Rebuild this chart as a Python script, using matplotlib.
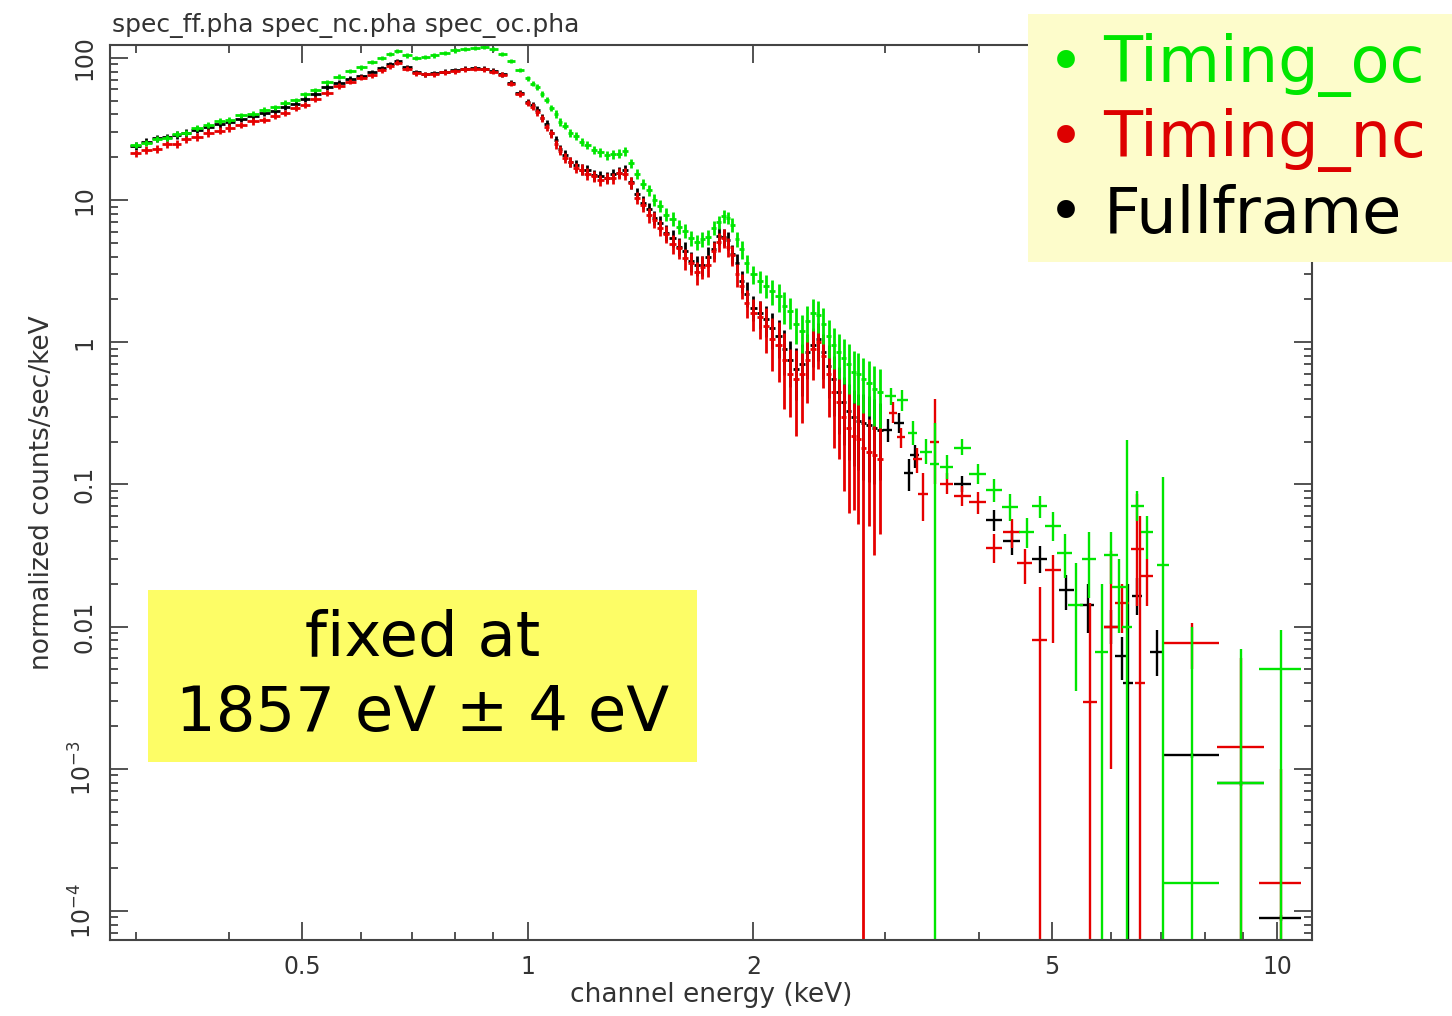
import numpy as np
import matplotlib
matplotlib.use("Agg")
import matplotlib.pyplot as plt
from matplotlib.ticker import FixedLocator, NullFormatter, LogLocator
from matplotlib.patches import Rectangle

# soft part of the spectra, 0.3-1 keV (keV, counts/s/keV)
energy_low = [0.300, 0.310, 0.320, 0.330, 0.340, 0.350, 0.362, 0.375, 0.388, 0.400,
              0.415, 0.430, 0.445, 0.460, 0.475, 0.490, 0.505, 0.520, 0.540, 0.560,
              0.580, 0.600, 0.620, 0.640, 0.655, 0.670, 0.690, 0.710, 0.730, 0.750,
              0.775, 0.800, 0.825, 0.850, 0.875, 0.900, 0.925, 0.950, 0.975]
rate_oc_low = [24.5, 25.2, 26.8, 27.5, 29.3, 29.8, 32.2, 33.6, 35.8, 36.7,
               39.4, 40.6, 43.3, 44.8, 48.5, 50.6, 55.4, 59.5, 67.3, 73.6,
               80.5, 85.7, 93.4, 99.5, 106, 112, 104, 99.5, 101, 104,
               108, 113, 115, 118, 119, 115, 106, 95.0, 82.0]
rate_nc_low = [21.3, 22.6, 22.9, 24.6, 24.9, 26.7, 27.8, 29.7, 30.8, 32.2,
               33.8, 35.7, 36.8, 39.2, 40.8, 44.2, 46.8, 51.3, 56.7, 63.2,
               67.8, 72.3, 75.8, 82.2, 87.5, 92.5, 84.0, 78.0, 76.5, 77.0,
               79.0, 80.5, 83.0, 84.0, 83.0, 80.0, 76.0, 66.0, 56.0]
rate_ff_low = [24.0, 25.8, 27.2, 27.7, 28.7, 29.6, 31.3, 32.8, 34.3, 35.2,
               37.3, 38.8, 41.2, 42.1, 45.3, 47.6, 51.4, 55.8, 62.4, 66.6,
               71.3, 74.6, 79.4, 84.6, 90.0, 95.0, 86.0, 79.0, 77.0, 78.0,
               80.0, 82.0, 84.0, 85.0, 84.0, 81.0, 77.0, 67.0, 57.0]
frac_oc_low = [0.05, 0.05, 0.05, 0.05, 0.05, 0.05, 0.05, 0.05, 0.05, 0.05,
               0.04, 0.04, 0.04, 0.04, 0.04, 0.04, 0.04, 0.04, 0.04, 0.04,
               0.035, 0.035, 0.035, 0.035, 0.035, 0.035, 0.035, 0.035, 0.035, 0.035,
               0.035, 0.035, 0.035, 0.035, 0.035, 0.035, 0.035, 0.035, 0.035]
frac_nc_low = [0.06, 0.06, 0.06, 0.06, 0.06, 0.06, 0.06, 0.06, 0.06, 0.06,
               0.05, 0.05, 0.05, 0.05, 0.05, 0.05, 0.05, 0.05, 0.05, 0.05,
               0.04, 0.04, 0.04, 0.04, 0.04, 0.04, 0.04, 0.04, 0.04, 0.04,
               0.04, 0.04, 0.04, 0.04, 0.04, 0.04, 0.04, 0.04, 0.045]
frac_ff_low = frac_nc_low

# 1-2 keV (Mg and Si lines)
energy_si = [1.000, 1.015, 1.030, 1.045, 1.060, 1.075, 1.090, 1.105, 1.120, 1.140,
             1.160, 1.180, 1.200, 1.225, 1.250, 1.275, 1.300, 1.325, 1.350, 1.375,
             1.400, 1.425, 1.450, 1.475, 1.500, 1.530, 1.560, 1.590, 1.620, 1.650,
             1.680, 1.710, 1.740, 1.770, 1.800, 1.825, 1.850, 1.875, 1.900, 1.930, 1.960]
rate_oc_si = [72.0, 66.0, 62.5, 55.5, 50.5, 44.5, 40.5, 35.5, 33.4, 29.6,
              28.3, 25.7, 24.5, 22.5, 21.7, 20.7, 21.0, 21.2, 22.0, 18.2,
              15.2, 13.0, 11.7, 10.0, 9.1, 7.9, 7.4, 6.5, 6.1, 5.4,
              5.1, 5.3, 5.5, 6.4, 7.0, 7.7, 7.5, 6.7, 5.3, 4.5, 3.6]
rate_nc_si = [48.0, 45.5, 41.5, 37.5, 32.5, 29.4, 24.6, 22.3, 19.7, 18.5,
              16.8, 16.4, 15.3, 14.8, 13.8, 14.3, 14.3, 15.5, 15.3, 13.2,
              10.4, 9.3, 7.9, 7.3, 6.4, 5.8, 4.9, 4.6, 3.9, 3.6,
              3.1, 3.4, 3.5, 4.4, 5.1, 5.4, 4.7, 4.1, 3.0, 2.5, 1.9]
rate_ff_si = [49.0, 46.3, 43.2, 38.0, 34.5, 29.8, 26.4, 22.8, 20.8, 18.6,
              17.7, 16.4, 16.2, 14.9, 14.7, 14.4, 15.2, 15.6, 16.2, 13.3,
              11.1, 9.6, 8.6, 7.5, 6.9, 5.9, 5.4, 4.7, 4.4, 3.7,
              3.5, 3.5, 4.0, 4.5, 5.6, 5.5, 5.2, 4.2, 3.6, 2.7, 2.2]
frac_oc_si = [0.04, 0.045, 0.05, 0.05, 0.05, 0.055, 0.06, 0.06, 0.06, 0.065,
              0.07, 0.07, 0.07, 0.07, 0.07, 0.07, 0.07, 0.07, 0.07, 0.075,
              0.08, 0.085, 0.09, 0.095, 0.10, 0.105, 0.11, 0.115, 0.12, 0.12,
              0.12, 0.12, 0.12, 0.11, 0.10, 0.10, 0.10, 0.11, 0.12, 0.14, 0.15]
frac_nc_si = [0.05, 0.055, 0.06, 0.06, 0.06, 0.065, 0.07, 0.075, 0.08, 0.08,
              0.08, 0.085, 0.09, 0.09, 0.09, 0.09, 0.09, 0.09, 0.09, 0.095,
              0.10, 0.11, 0.12, 0.125, 0.13, 0.14, 0.15, 0.16, 0.17, 0.18,
              0.18, 0.18, 0.18, 0.16, 0.15, 0.15, 0.15, 0.16, 0.18, 0.20, 0.22]
frac_ff_si = [0.05, 0.055, 0.06, 0.06, 0.06, 0.065, 0.07, 0.075, 0.08, 0.08,
              0.08, 0.085, 0.09, 0.09, 0.09, 0.09, 0.09, 0.09, 0.09, 0.095,
              0.10, 0.105, 0.11, 0.115, 0.12, 0.13, 0.14, 0.145, 0.15, 0.16,
              0.16, 0.16, 0.16, 0.15, 0.14, 0.14, 0.14, 0.15, 0.16, 0.18, 0.20]

# 2-3 keV, still fine channels but noisy
energy_mid = [2.00, 2.04, 2.08, 2.12, 2.16, 2.20, 2.24, 2.28, 2.32, 2.36, 2.40, 2.44,
              2.48, 2.52, 2.56, 2.60, 2.64, 2.68, 2.72, 2.76, 2.80, 2.85, 2.90, 2.95]
rate_oc_mid = [3.0, 2.7, 2.5, 2.3, 2.1, 1.8, 1.65, 1.35, 1.2, 1.4, 1.6, 1.55,
               1.35, 1.1, 0.95, 0.85, 0.78, 0.70, 0.62, 0.60, 0.55, 0.52, 0.47, 0.45]
rate_nc_mid = [1.6, 1.5, 1.3, 1.05, 0.95, 0.75, 0.60, 0.55, 0.60, 0.75, 0.90, 1.0,
               0.80, 0.60, 0.45, 0.38, 0.30, 0.25, 0.22, 0.21, 0.18, 0.17, 0.16, 0.15]
rate_ff_mid = [1.75, 1.6, 1.45, 1.25, 1.1, 0.90, 0.75, 0.65, 0.70, 0.85, 0.95, 1.05,
               0.85, 0.68, 0.55, 0.45, 0.38, 0.33, 0.30, 0.28, 0.27, 0.26, 0.25, 0.24]
frac_oc_mid = [0.15, 0.18, 0.18, 0.20, 0.22, 0.25, 0.25, 0.28, 0.30, 0.28, 0.25, 0.25,
               0.28, 0.30, 0.32, 0.35, 0.35, 0.38, 0.40, 0.40, 0.42, 0.42, 0.45, 0.45]
frac_nc_mid = [0.25, 0.30, 0.35, 0.40, 0.45, 0.55, 0.50, 0.60, 0.55, 0.50, 0.40, 0.35,
               0.40, 0.50, 0.60, 0.60, 0.70, 0.75, 0.70, 0.75, 1.20, 0.70, 0.80, 0.70]
frac_ff_mid = [0.20, 0.22, 0.25, 0.28, 0.30, 0.35, 0.35, 0.40, 0.40, 0.35, 0.30, 0.30,
               0.35, 0.40, 0.45, 0.50, 0.50, 0.55, 0.55, 0.55, 0.60, 0.60, 0.60, 0.55]

# sparse high energy bins: centre, half width, value, lower / upper bound (0 = no lower bound)
oc_e = [3.05, 3.16, 3.26, 3.40, 3.49, 3.62, 3.80, 3.98, 4.19, 4.40, 4.63, 4.82, 5.02,
        5.20, 5.38, 5.60, 5.83, 6.00, 6.15, 6.30, 6.50, 6.70, 7.03, 7.70, 8.95, 10.1]
oc_hw = [0.05, 0.05, 0.05, 0.06, 0.05, 0.07, 0.10, 0.10, 0.10, 0.11, 0.11, 0.11, 0.12,
         0.12, 0.12, 0.12, 0.12, 0.13, 0.13, 0.10, 0.13, 0.13, 0.13, 0.65, 0.64, 0.65]
oc_v = [0.42, 0.39, 0.23, 0.17, 0.14, 0.133, 0.18, 0.118, 0.092, 0.069, 0.046, 0.070, 0.051,
        0.033, 0.0142, 0.030, 0.0066, 0.032, 0.019, 0.010, 0.070, 0.046, 0.027, 1.58e-4, 7.9e-4, 5.0e-3]
oc_lo = [0.36, 0.33, 0.19, 0.14, 0, 0.11, 0.16, 0.10, 0.075, 0.055, 0.036, 0.058, 0.040,
         0.022, 0.0035, 0.016, 0, 0.020, 0.009, 0, 0.055, 0.030, 0, 0, 0, 0]
oc_hi = [0.48, 0.46, 0.28, 0.21, 0.27, 0.16, 0.21, 0.14, 0.11, 0.085, 0.058, 0.083, 0.064,
         0.045, 0.028, 0.046, 0.020, 0.046, 0.030, 0.205, 0.090, 0.060, 0.113, 0.010, 7.0e-3, 9.5e-3]

nc_e = [3.07, 3.15, 3.31, 3.37, 3.49, 3.62, 3.80, 3.98, 4.19, 4.42, 4.60, 4.82,
        5.02, 5.62, 6.00, 6.20, 6.50, 6.56, 6.70, 7.70, 8.95, 10.1]
nc_hw = [0.04, 0.04, 0.05, 0.05, 0.05, 0.07, 0.10, 0.10, 0.10, 0.11, 0.11, 0.11,
         0.12, 0.12, 0.13, 0.13, 0.13, 0.10, 0.13, 0.65, 0.64, 0.65]
nc_v = [0.32, 0.215, 0.15, 0.085, 0.20, 0.10, 0.083, 0.075, 0.036, 0.046, 0.028, 0.0081,
        0.025, 2.95e-3, 0.010, 0.0147, 0.035, 0.004, 0.0227, 7.7e-3, 1.43e-3, 1.58e-4]
nc_lo = [0.27, 0.18, 0.12, 0.055, 0.10, 0.085, 0.07, 0.062, 0.028, 0.036, 0.020, 0,
         0.0077, 0, 1.0e-3, 0.009, 0.014, 0, 0.014, 5.0e-3, 0, 0]
nc_hi = [0.38, 0.25, 0.18, 0.12, 0.40, 0.12, 0.097, 0.088, 0.045, 0.057, 0.035, 0.019,
         0.032, 0.0146, 0.034, 0.020, 0.085, 0.06, 0.030, 0.0106, 6.0e-3, 1.0e-3]

ff_e = [3.02, 3.13, 3.22, 3.28, 3.80, 4.19, 4.42, 4.82, 5.23, 5.58, 6.00, 6.20,
        6.32, 6.50, 6.90, 7.70, 8.95, 10.1]
ff_hw = [0.04, 0.05, 0.04, 0.05, 0.10, 0.10, 0.11, 0.11, 0.12, 0.12, 0.13, 0.13,
         0.10, 0.10, 0.13, 0.65, 0.64, 0.65]
ff_v = [0.24, 0.27, 0.12, 0.16, 0.10, 0.056, 0.040, 0.030, 0.018, 0.0143, 0.010, 0.0062,
        0.004, 0.0165, 0.0066, 1.25e-3, 7.9e-4, 8.9e-5]
ff_lo = [0.20, 0.23, 0.09, 0.13, 0.088, 0.047, 0.032, 0.024, 0.013, 0.009, 0.0075, 0.0042,
         0, 0.012, 0.0045, 1.2e-3, 7.6e-4, 8.5e-5]
ff_hi = [0.29, 0.32, 0.15, 0.19, 0.115, 0.066, 0.048, 0.037, 0.023, 0.020, 0.013, 0.0085,
         0.02, 0.022, 0.0095, 1.3e-3, 8.2e-4, 9.3e-5]

x_ticks = [0.5, 1, 2, 5, 10]
x_labels = ["0.5", "1", "2", "5", "10"]
y_ticks = [1e-4, 1e-3, 1e-2, 0.1, 1, 10, 100]
y_labels = [r"$10^{-4}$", r"$10^{-3}$", "0.01", "0.1", "1", "10", "100"]

col_oc = "#00e600"
col_nc = "#e60000"
col_ff = "black"
frame_col = "#444444"

fig = plt.figure(figsize=(14.52, 10.16), dpi=100)
ax = fig.add_axes([0.0758, 0.0748, 0.828, 0.881])
ax.set_xscale("log")
ax.set_yscale("log")


def bin_half_widths(centres):
    # channel edges halfway (in log) between neighbouring centres
    c = np.array(centres)
    mids = np.sqrt(c[:-1] * c[1:])
    lo = np.concatenate([[c[0] * c[0] / mids[0]], mids])
    hi = np.concatenate([mids, [c[-1] * c[-1] / mids[-1]]])
    return [c - lo, hi - c]


def draw_dense(en, rate, frac, col, lw):
    r = np.array(rate)
    ax.errorbar(en, r, xerr=bin_half_widths(en), yerr=r * np.array(frac), fmt="none",
                ecolor=col, elinewidth=lw, capsize=0)


def draw_sparse(en, hw, val, lo, hi, col, lw):
    v = np.array(val)
    ax.errorbar(en, v, xerr=hw, yerr=[v - np.array(lo), np.array(hi) - v], fmt="none",
                ecolor=col, elinewidth=lw, capsize=0)


series = [
    (col_ff, [(energy_low, rate_ff_low, frac_ff_low), (energy_si, rate_ff_si, frac_ff_si),
              (energy_mid, rate_ff_mid, frac_ff_mid)], (ff_e, ff_hw, ff_v, ff_lo, ff_hi)),
    (col_nc, [(energy_low, rate_nc_low, frac_nc_low), (energy_si, rate_nc_si, frac_nc_si),
              (energy_mid, rate_nc_mid, frac_nc_mid)], (nc_e, nc_hw, nc_v, nc_lo, nc_hi)),
    (col_oc, [(energy_low, rate_oc_low, frac_oc_low), (energy_si, rate_oc_si, frac_oc_si),
              (energy_mid, rate_oc_mid, frac_oc_mid)], (oc_e, oc_hw, oc_v, oc_lo, oc_hi)),
]
for col, parts, sparse in series:
    for en, rate, frac in parts:
        draw_dense(en, rate, frac, col, 2.0)
    draw_sparse(*sparse, col, 1.7)

ax.set_xlim(0.2772, 11.13)
ax.set_ylim(6.25e-5, 123.4)

ax.xaxis.set_major_locator(FixedLocator(x_ticks))
ax.xaxis.set_minor_locator(FixedLocator([0.3, 0.4, 0.6, 0.7, 0.8, 0.9, 3, 4, 6, 7, 8, 9]))
ax.set_xticklabels(x_labels)
ax.xaxis.set_minor_formatter(NullFormatter())
ax.yaxis.set_major_locator(FixedLocator(y_ticks))
ax.yaxis.set_minor_locator(LogLocator(base=10, subs=np.arange(2, 10), numticks=20))
ax.yaxis.set_minor_formatter(NullFormatter())
ax.set_yticklabels(y_labels, rotation=90, va="center")

ax.tick_params(which="both", direction="in", top=True, right=True,
               color=frame_col, width=1.3)
ax.tick_params(which="major", length=13)
ax.tick_params(which="minor", length=6)
ax.tick_params(axis="x", labelsize=17, pad=11, labelcolor="#333333")
ax.tick_params(axis="y", labelsize=17, pad=10, labelcolor="#333333")
for s in ax.spines.values():
    s.set_color(frame_col)
    s.set_linewidth(1.5)

ax.set_xlabel("channel energy (keV)", fontsize=19, color="#333333", labelpad=2)
ax.set_ylabel("normalized counts/sec/keV", fontsize=19, color="#333333", labelpad=10)
fig.text(0.077, 0.975, "spec_ff.pha spec_nc.pha spec_oc.pha", fontsize=18,
         color="#333333", ha="left", va="center")

# legend panel
fig.patches.append(Rectangle((0.708, 0.742), 0.292, 0.244, transform=fig.transFigure,
                             facecolor="#fdfccb", edgecolor="none", zorder=5))
legend_rows = [("Timing_oc", col_oc, 0.936), ("Timing_nc", "#dd0000", 0.862),
               ("Fullframe", "black", 0.788)]
for name, col, yy in legend_rows:
    fig.text(0.734, yy, "\u2022", fontsize=44, color=col, ha="center", va="center", zorder=6)
    fig.text(0.760, yy, name, fontsize=46, color=col, ha="left", va="center", zorder=6)

# annotation box
fig.patches.append(Rectangle((0.102, 0.25), 0.378, 0.169, transform=fig.transFigure,
                             facecolor="#fdfd66", edgecolor="none", zorder=5))
fig.text(0.291, 0.371, "fixed at", fontsize=45, ha="center", va="center", zorder=6)
fig.text(0.291, 0.297, "1857 eV \u00b1 4 eV", fontsize=45, ha="center", va="center", zorder=6)

fig.savefig("out.png", dpi=100)
